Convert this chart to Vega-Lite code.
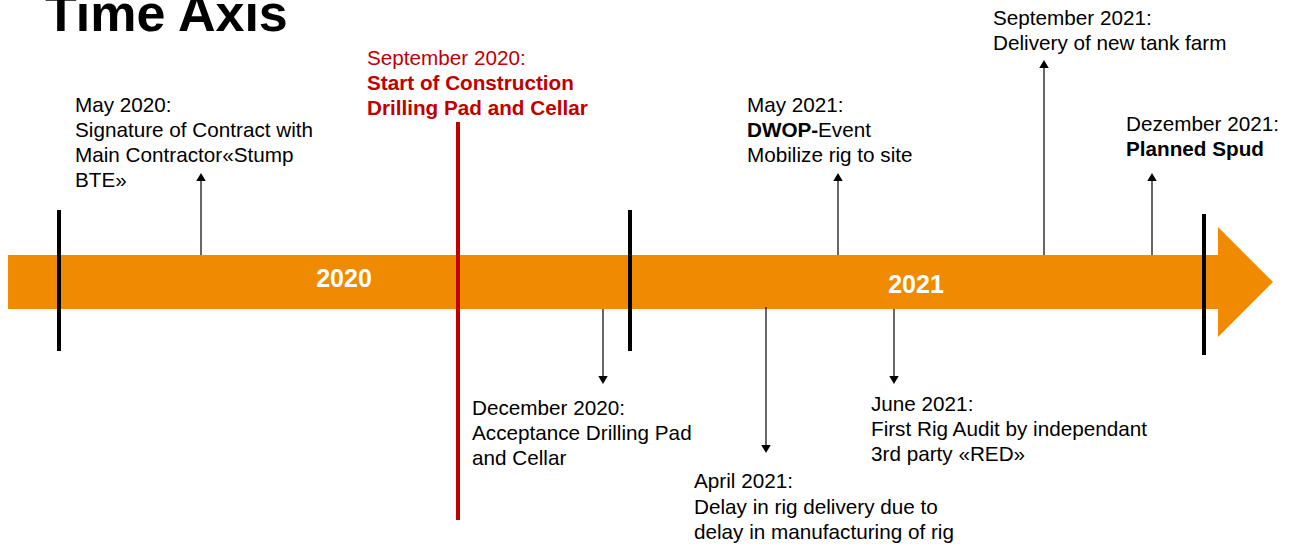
{
  "$schema": "https://vega.github.io/schema/vega-lite/v6.json",
  "width": 1293,
  "height": 547,
  "autosize": "none",
  "padding": 0,
  "background": "white",
  "config": {"view": {"stroke": null}, "text": {"font": "Liberation Sans"}},
  "datasets": {
    "bar": [{"x": 8, "x2": 1219, "y": 255, "y2": 309}],
    "head": [
      {"x": 1218, "y": 227, "y2": 337},
      {"x": 1273, "y": 282, "y2": 282}
    ],
    "ticks": [
      {"x": 59, "y": 210, "y2": 351},
      {"x": 630, "y": 210, "y2": 351},
      {"x": 1204, "y": 214, "y2": 355}
    ],
    "redline": [{"x": 458, "y": 122, "y2": 520}],
    "arrows": [
      {"x": 201, "from": 255, "to": 181, "tip": 177, "dir": "up"},
      {"x": 838, "from": 255, "to": 181, "tip": 177, "dir": "up"},
      {"x": 1044, "from": 255, "to": 68, "tip": 64, "dir": "up"},
      {"x": 1152, "from": 255, "to": 181, "tip": 177, "dir": "up"},
      {"x": 603, "from": 309, "to": 376, "tip": 380, "dir": "down"},
      {"x": 766, "from": 307, "to": 445, "tip": 449, "dir": "down"},
      {"x": 894, "from": 309, "to": 376, "tip": 380, "dir": "down"}
    ],
    "normal": [
      {"x": 75, "y": 106, "t": "May 2020:"},
      {"x": 75, "y": 131, "t": "Signature of Contract with"},
      {"x": 75, "y": 156, "t": "Main Contractor«Stump"},
      {"x": 75, "y": 181, "t": "BTE»"},
      {"x": 747, "y": 106, "t": "May 2021:"},
      {"x": 818, "y": 131, "t": "Event"},
      {"x": 747, "y": 156, "t": "Mobilize rig to site"},
      {"x": 993, "y": 19, "t": "September 2021:"},
      {"x": 993, "y": 44, "t": "Delivery of new tank farm"},
      {"x": 1126, "y": 125, "t": "Dezember 2021:"},
      {"x": 472, "y": 409, "t": "December 2020:"},
      {"x": 472, "y": 434, "t": "Acceptance Drilling Pad"},
      {"x": 472, "y": 459, "t": "and Cellar"},
      {"x": 694, "y": 482, "t": "April 2021:"},
      {"x": 694, "y": 508, "t": "Delay in rig delivery due to"},
      {"x": 694, "y": 533, "t": "delay in manufacturing of rig"},
      {"x": 871, "y": 405, "t": "June 2021:"},
      {"x": 871, "y": 430, "t": "First Rig Audit by independant"},
      {"x": 871, "y": 455, "t": "3rd party «RED»"}
    ],
    "bold": [
      {"x": 747, "y": 131, "t": "DWOP-"},
      {"x": 1126, "y": 150, "t": "Planned Spud"}
    ],
    "rednormal": [{"x": 367, "y": 59, "t": "September 2020:"}],
    "redbold": [
      {"x": 367, "y": 84, "t": "Start of Construction"},
      {"x": 367, "y": 109, "t": "Drilling Pad and Cellar"}
    ],
    "years": [
      {"x": 344, "y": 279, "t": "2020"},
      {"x": 916, "y": 285, "t": "2021"}
    ],
    "title": [{"x": 45, "y": 31, "t": "Time Axis"}]
  },
  "encoding": {
    "x": {"field": "x", "type": "quantitative", "scale": {"domain": [0, 1293], "nice": false, "zero": false}, "axis": null},
    "y": {"field": "y", "type": "quantitative", "scale": {"domain": [0, 547], "nice": false, "zero": false, "reverse": true}, "axis": null}
  },
  "layer": [
    {
      "data": {"name": "bar"},
      "mark": {"type": "rect", "color": "#F08A00"},
      "encoding": {"x2": {"field": "x2"}, "y2": {"field": "y2"}}
    },
    {
      "data": {"name": "head"},
      "mark": {"type": "area", "color": "#F08A00", "orient": "vertical"},
      "encoding": {"y2": {"field": "y2"}}
    },
    {
      "data": {"name": "ticks"},
      "mark": {"type": "rule", "color": "#000000", "strokeWidth": 4},
      "encoding": {"y2": {"field": "y2"}}
    },
    {
      "data": {"name": "redline"},
      "mark": {"type": "rule", "color": "#C00000", "strokeWidth": 4},
      "encoding": {"y2": {"field": "y2"}}
    },
    {
      "data": {"name": "arrows"},
      "mark": {"type": "rule", "color": "#000000", "strokeWidth": 1.2},
      "encoding": {"y": {"field": "from", "type": "quantitative"}, "y2": {"field": "to"}}
    },
    {
      "data": {"name": "arrows"},
      "mark": {"type": "point", "filled": true, "color": "#000000", "size": 90, "opacity": 1},
      "encoding": {
        "y": {"field": "tip", "type": "quantitative"},
        "shape": {"field": "dir", "type": "nominal", "scale": {"domain": ["up", "down"], "range": ["triangle-up", "triangle-down"]}, "legend": null}
      }
    },
    {
      "data": {"name": "normal"},
      "mark": {"type": "text", "align": "left", "baseline": "middle", "fontSize": 20.7, "color": "#000000"},
      "encoding": {"text": {"field": "t"}}
    },
    {
      "data": {"name": "bold"},
      "mark": {"type": "text", "align": "left", "baseline": "middle", "fontSize": 20.7, "fontWeight": "bold", "color": "#000000"},
      "encoding": {"text": {"field": "t"}}
    },
    {
      "data": {"name": "rednormal"},
      "mark": {"type": "text", "align": "left", "baseline": "middle", "fontSize": 20.7, "color": "#C00000"},
      "encoding": {"text": {"field": "t"}}
    },
    {
      "data": {"name": "redbold"},
      "mark": {"type": "text", "align": "left", "baseline": "middle", "fontSize": 20.7, "fontWeight": "bold", "color": "#C00000"},
      "encoding": {"text": {"field": "t"}}
    },
    {
      "data": {"name": "years"},
      "mark": {"type": "text", "align": "center", "baseline": "middle", "fontSize": 25, "fontWeight": "bold", "color": "#FFFFFF"},
      "encoding": {"text": {"field": "t"}}
    },
    {
      "data": {"name": "title"},
      "mark": {"type": "text", "align": "left", "baseline": "alphabetic", "fontSize": 52, "fontWeight": "bold", "color": "#000000"},
      "encoding": {"text": {"field": "t"}}
    }
  ]
}
